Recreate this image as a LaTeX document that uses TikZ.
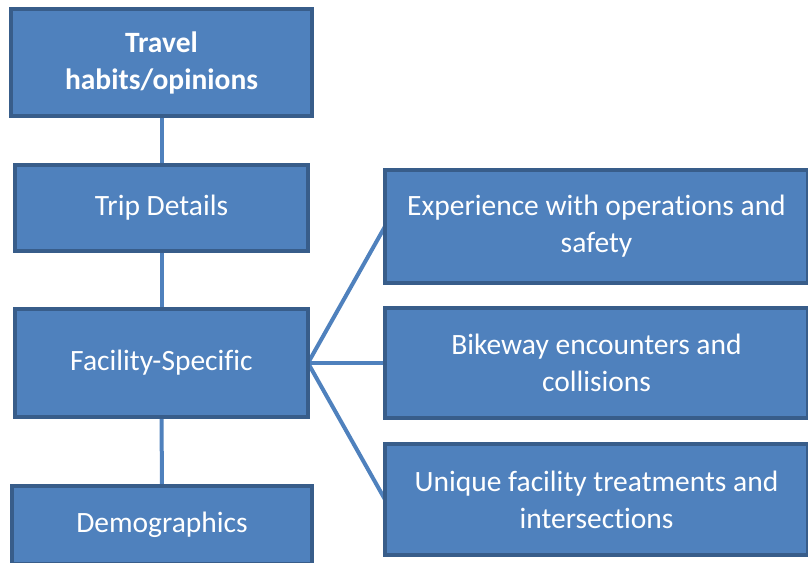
\documentclass[tikz,border=0pt]{standalone}
\usepackage{fontspec}
\setmainfont{Carlito}[Ligatures={NoCommon}]
\usetikzlibrary{backgrounds}
\definecolor{boxfill}{HTML}{4F81BD}
\definecolor{boxline}{HTML}{385D8A}
\tikzset{
  topic/.style={draw=boxline,fill=boxfill,line width=4.5pt,text=white,align=center,
    inner sep=0pt,outer sep=0pt,font=\fontsize{29.5}{37}\selectfont},
  link/.style={draw=boxfill,line width=4pt}
}
\begin{document}
\begin{tikzpicture}[x=1pt,y=-1pt]
\useasboundingbox (0,0) rectangle (808,562);
\begin{scope}
\clip (0,0) rectangle (808,562);
\node[topic,minimum width=301pt,minimum height=107pt,font=\fontsize{29.5}{37}\selectfont\bfseries] (travel) at (161.5,62.5) {Travel\\habits/opinions};
\node[topic,minimum width=293pt,minimum height=86pt] (trip) at (161.5,208) {Trip Details};
\node[topic,minimum width=293pt,minimum height=108pt] (facility) at (161.5,363) {Facility-Specific};
\node[topic,minimum width=300pt,minimum height=78pt] (demo) at (162,525) {Demographics};
\node[topic,minimum width=423pt,minimum height=113pt] (exp) at (596.5,226.5) {Experience with operations and\\safety};
\node[topic,minimum width=423pt,minimum height=110pt] (bike) at (596.5,363) {Bikeway encounters and\\collisions};
\node[topic,minimum width=423pt,minimum height=111pt] (unique) at (596.5,499.5) {Unique facility treatments and\\intersections};
\begin{pgfonlayer}{background}
\draw[link] (travel.south) -- (trip.north);
\draw[link] (trip.south) -- (facility.north);
\draw[link] (facility.south) -- (demo.north);
\draw[link] (facility.east) -- (exp.west);
\draw[link] (facility.east) -- (bike.west);
\draw[link] (facility.east) -- (unique.west);
\end{pgfonlayer}
\end{scope}
\end{tikzpicture}
\end{document}
